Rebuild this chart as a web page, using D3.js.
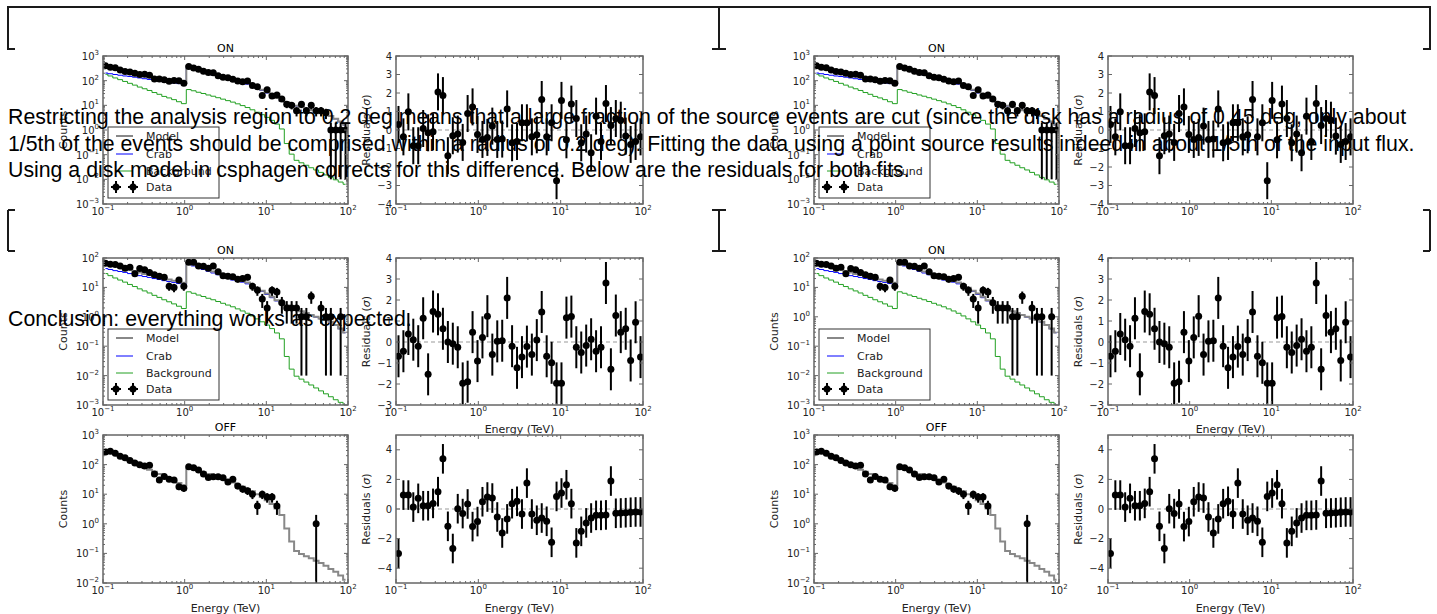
<!DOCTYPE html>
<html>
<head>
<meta charset="utf-8">
<script src="https://cdn.jsdelivr.net/npm/d3@7"></script>
<style>
  body { margin: 0; background: #fff; }
  svg text { font-family: "DejaVu Sans", sans-serif; }
  .para { font-family: "Liberation Sans", Arial, sans-serif; font-size: 21.3px; fill: #000; }
</style>
</head>
<body>
<svg id="page" width="1437" height="614"></svg>
<script>
// energy bin centres (TeV)
const energy = [0.1072,0.1230,0.1413,0.1622,0.1862,0.2138,0.2455,0.2818,0.3236,0.3715,
  0.4266,0.4898,0.5623,0.6457,0.7413,0.8511,0.9772,1.122,1.288,1.479,
  1.698,1.950,2.239,2.570,2.951,3.388,3.890,4.467,5.129,5.888,
  6.761,7.762,8.913,10.23,11.75,13.49,15.49,17.78,20.42,23.44,
  26.92,30.90,35.48,40.74,46.77,53.70,61.66,70.79,81.28,93.33];

// first figure: ON spectrum (disk / point fit)
const countsA = [404,348,333,268,238,225,198,177,184,167,116,117,108,95,102,99,78,
  371,325,293,243,212,207,157,138,130,114,96,91,96,63,57,25,43,24,26,18,11,10,6,11,6,10,6,6,5,1,1,1,1];
const modelA = [398,355,316,282,251,224,200,178,158,145,132,120,110,102,93.5,86.9,79.8,
  381,332,289,251,219,191,166,145,126,110,100,93.5,81.4,66.0,53.7,42.7,33.9,26.3,20.0,
  15.5,13.2,11.2,9.57,8.53,7.43,6.33,5.50,4.79,4.27,3.72,2.89,2.19,1.62];
const crabA = [204,191,178,166,155,148,138,129,120,112,105,98,91,87,81,76,71,
  339,295,257,224,195,170,148,129,112,97.9,89.1,83.1,72.6,60.5,49.0,39.8,31.6,24.6,19.1,
  14.8,12.9,11.0,9.35,8.31,7.26,6.16,5.37,4.68,4.17,3.64,2.82,2.14,1.58];
const bkgA = [182,155,129,110,93,78,66,55,47,40,33,28,23,20,17,14,11.7,
  43.7,38.9,33.9,30.2,26.3,23.4,20.4,17.8,15.5,13.5,11.5,9.75,8.14,6.60,5.25,4.17,3.24,2.46,1.74,
  1.10,0.282,0.105,0.0589,0.0468,0.0372,0.0295,0.0240,0.0191,0.0151,0.0120,0.00955,0.00776,0.00631];
const residA = [0.3,-0.37,0.98,-0.85,-0.85,0.08,-0.15,-0.1,2.06,1.86,
  -1.39,-0.31,-0.22,-0.67,0.89,1.25,-0.24,-0.51,-0.4,0.21,
  -0.51,-0.49,1.14,-0.69,-0.62,0.39,0.39,-0.37,-0.26,1.65,
  -0.37,0.39,-2.74,1.6,-0.53,1.4,0.62,-0.69,-0.22,-1.23,
  0.75,-0.62,1.43,0.24,0.62,0.53,-0.33,-0.78,-0.62,-0.37];

// second figure: ON spectrum in 0.2 deg region
const countsB = [66,61,60,53,45,48,29,44,40,32,27,24,22,11,10,18,11,
  71,71,53,52,45,53,34,25,24,23,19,20,22,11,8,4,2,8,7,3,2,2,2,1,1,5,0,2,1,1,0,1,0];
const modelB = [72.4,64.6,57.5,51.3,45.7,40.7,36.3,32.4,28.8,26.3,24.0,21.9,20.0,18.6,17.0,15.8,14.5,
  69.2,60.3,52.5,45.7,39.8,34.7,30.2,26.3,22.9,20.0,18.2,17.0,14.8,12.0,9.77,7.76,6.17,4.79,3.63,
  2.82,2.40,2.04,1.74,1.55,1.35,1.15,1.00,0.871,0.776,0.676,0.525,0.398,0.295];
const crabB = [43.7,40.7,37.2,34.7,32.4,29.5,27.5,25.1,23.4,21.9,20.0,18.6,17.0,15.8,14.8,13.5,12.6,
  61.7,53.7,46.8,40.7,35.5,30.9,26.9,23.4,20.4,17.8,16.2,15.1,13.2,11.0,8.91,7.24,5.75,4.47,3.47,
  2.69,2.34,2.00,1.70,1.51,1.32,1.12,0.977,0.851,0.759,0.661,0.513,0.389,0.288];
const bkgB = [29.5,25.1,20.9,17.8,15.1,12.6,10.7,8.91,7.59,6.46,5.37,4.57,3.80,3.24,2.75,2.29,1.91,
  7.08,6.31,5.50,4.90,4.27,3.80,3.31,2.88,2.51,2.19,1.86,1.58,1.32,1.07,0.851,0.676,0.525,0.398,0.282,
  0.178,0.0447,0.0166,0.00955,0.00759,0.00603,0.00479,0.00380,0.00302,0.00240,0.00191,0.00151,0.00123,0.00100];
const residB = [-0.68,-0.44,0.38,0.11,-0.2,1.13,-1.54,1.45,1.32,0.63,
  0,-0.08,-0.25,-1.97,-1.89,0.47,-0.91,0.22,1.23,-0.6,
  0.03,0.06,2.1,-0.2,-1.23,-0.72,-0.22,-0.6,0.09,1.43,
  -0.68,-0.99,-1.97,-1.97,1.16,1.21,-0.25,-0.5,-0.17,0.13,
  -0.44,-0.25,2.81,-1.3,1.26,0.47,0.63,-0.88,0.94,-0.72];

// OFF spectrum
const countsC = [266,285,242,192,169,137,114,98,89,95,48,30,40,32,30,18,16,
  84,78,66,48,37,39,39,36,26,32,19,15,13,10,4,10,8,8,4,0,0,0,0,0,0,0,1,0,0,0,0,0,0];
const modelC = [320,270,228,190,160,134,112,94,79,67,57,48,40,34,28.5,24,20,
  80,71,62,55,48,43,37,33,28,25,21,18,15,12.5,10,8,6.2,4.7,3.3,
  2.0,0.7,0.25,0.12,0.095,0.08,0.068,0.057,0.047,0.038,0.03,0.024,0.018,0.013];
const residC = [-3.0,0.94,0.94,0.13,0.72,0.22,0.22,0.38,1.17,3.39,
  -1.17,-2.67,0.02,-0.31,0.34,-1.19,-0.85,0.49,0.81,0.74,
  -0.54,-1.62,-0.67,0.36,0.52,-0.34,1.75,-0.34,-0.76,-0.61,
  -0.83,-2.25,0.85,1.08,1.64,0.36,-2.29,-1.51,-0.94,-0.61,
  -0.43,-0.43,-0.4,1.89,-0.29,-0.27,-0.25,-0.22,-0.2,-0.2];

const legendNames = ["Model", "Crab", "Background", "Data"];
const paragraph = [
  "Restricting the analysis region to 0.2 deg means that a large fraction of the source events are cut (since the disk has a radius of 0.45 deg, only about",
  "1/5th of the events should be comprised within a radius of 0.2 deg). Fitting the data using a point source results indeed in about 1/5th of the input flux.",
  "Using a disk model in csphagen corrects for this difference. Below are the residuals for both fits."
];
const conclusion = "Conclusion: everything works as expected.";

const spine = "#666", ink = "#222";
const cModel = "#888", cCrab = "#0000ff", cBkg = "#22a022";
const errFloor = 1e-2; // lower end of Poisson error bars that reach zero

const svg = d3.select("#page");
const defs = svg.append("defs");
let clipN = 0;

// column x-ranges and row y-ranges of the axes
const cols = [
  { on: [103, 348], res: [396, 643] },
  { on: [814, 1059], res: [1108, 1353] }
];
const rows = { A: [56, 204], B: [258, 405], C: [435, 583] };

function isDecade(t) { const l = Math.log10(t); return Math.abs(l - Math.round(l)) < 1e-6; }

function supLabel(sel, exp) {
  sel.append("tspan").text("10");
  sel.append("tspan").attr("dy", -5).attr("font-size", 7).text(exp < 0 ? "\u2212" + (-exp) : exp);
}

function makeAxes(xr, yr, yScaleType, yDomain, opts) {
  const x = d3.scaleLog().domain([0.1, 100]).range(xr);
  const y = (yScaleType === "log" ? d3.scaleLog() : d3.scaleLinear()).domain(yDomain).range([yr[1], yr[0]]);
  const id = "clip" + (clipN++);
  defs.append("clipPath").attr("id", id).append("rect")
    .attr("x", xr[0]).attr("y", yr[0]).attr("width", xr[1] - xr[0]).attr("height", yr[1] - yr[0]);
  const g = svg.append("g");
  const inner = g.append("g").attr("clip-path", `url(#${id})`);
  const axisG = g.append("g");

  // x ticks (log) on bottom and top
  x.ticks().forEach(t => {
    const major = isDecade(t), len = major ? 4 : 2, px = x(t);
    axisG.append("line").attr("x1", px).attr("x2", px).attr("y1", yr[1]).attr("y2", yr[1] - len)
      .attr("stroke", spine).attr("stroke-width", 1);
    axisG.append("line").attr("x1", px).attr("x2", px).attr("y1", yr[0]).attr("y2", yr[0] + len)
      .attr("stroke", spine).attr("stroke-width", 1);
    if (major) {
      axisG.append("text").attr("x", px).attr("y", yr[1] + 11).attr("text-anchor", "middle")
        .attr("font-size", 10).attr("fill", ink).call(supLabel, Math.round(Math.log10(t)));
    }
  });

  // y ticks on left and right
  if (yScaleType === "log") {
    y.ticks().forEach(t => {
      const major = isDecade(t), len = major ? 4 : 2, py = y(t);
      axisG.append("line").attr("x1", xr[0]).attr("x2", xr[0] + len).attr("y1", py).attr("y2", py)
        .attr("stroke", spine).attr("stroke-width", 1);
      axisG.append("line").attr("x1", xr[1]).attr("x2", xr[1] - len).attr("y1", py).attr("y2", py)
        .attr("stroke", spine).attr("stroke-width", 1);
      if (major) {
        axisG.append("text").attr("x", xr[0] - 4).attr("y", py + 4).attr("text-anchor", "end")
          .attr("font-size", 10).attr("fill", ink).call(supLabel, Math.round(Math.log10(t)));
      }
    });
  } else {
    y.ticks(opts.yTicks).forEach(t => {
      const py = y(t);
      axisG.append("line").attr("x1", xr[0]).attr("x2", xr[0] + 4).attr("y1", py).attr("y2", py)
        .attr("stroke", spine).attr("stroke-width", 1);
      axisG.append("line").attr("x1", xr[1]).attr("x2", xr[1] - 4).attr("y1", py).attr("y2", py)
        .attr("stroke", spine).attr("stroke-width", 1);
      axisG.append("text").attr("x", xr[0] - 4).attr("y", py + 3.5).attr("text-anchor", "end")
        .attr("font-size", 10).attr("fill", ink).text(t < 0 ? "\u2212" + (-t) : t);
    });
  }

  axisG.append("rect").attr("x", xr[0]).attr("y", yr[0]).attr("width", xr[1] - xr[0]).attr("height", yr[1] - yr[0])
    .attr("fill", "none").attr("stroke", spine).attr("stroke-width", 1.5);

  if (opts.title) {
    g.append("text").attr("x", (xr[0] + xr[1]) / 2).attr("y", yr[0] - 4).attr("text-anchor", "middle")
      .attr("font-size", 11).attr("fill", "#000").text(opts.title);
  }
  if (opts.ylabel) {
    const cy = (yr[0] + yr[1]) / 2, cx = opts.ylabelX;
    const t = g.append("text").attr("transform", `translate(${cx},${cy}) rotate(-90)`)
      .attr("text-anchor", "middle").attr("font-size", 11).attr("fill", ink);
    if (opts.ylabel === "res") {
      t.append("tspan").text("Residuals (");
      t.append("tspan").attr("font-style", "italic").text("\u03c3");
      t.append("tspan").text(")");
    } else t.text(opts.ylabel);
  }
  if (opts.xlabel) {
    g.append("text").attr("x", (xr[0] + xr[1]) / 2).attr("y", opts.xlabelY).attr("text-anchor", "middle")
      .attr("font-size", 11).attr("fill", ink).text(opts.xlabel);
  }
  return { x, y, inner, g };
}

function stepLine(ax, vals, color, width) {
  const line = d3.line()
    .defined(d => d[1] > 0)
    .x(d => ax.x(d[0])).y(d => ax.y(d[1]))
    .curve(d3.curveStep);
  ax.inner.append("path").datum(energy.map((e, i) => [e, vals[i]]))
    .attr("d", line).attr("fill", "none").attr("stroke", color).attr("stroke-width", width);
}

function countPoints(ax, counts) {
  const pts = energy.map((e, i) => ({ e, n: counts[i] })).filter(d => d.n > 0);
  ax.inner.selectAll(null).data(pts).enter().append("line")
    .attr("x1", d => ax.x(d.e)).attr("x2", d => ax.x(d.e))
    .attr("y1", d => ax.y(d.n + Math.sqrt(d.n)))
    .attr("y2", d => ax.y(Math.max(d.n - Math.sqrt(d.n), errFloor)))
    .attr("stroke", "#000").attr("stroke-width", 2);
  ax.inner.selectAll(null).data(pts).enter().append("circle")
    .attr("cx", d => ax.x(d.e)).attr("cy", d => ax.y(d.n)).attr("r", 3.5).attr("fill", "#000");
}

function residPoints(ax, resid) {
  const pts = energy.map((e, i) => ({ e, r: resid[i] }));
  ax.inner.append("line").attr("x1", ax.x.range()[0]).attr("x2", ax.x.range()[1])
    .attr("y1", ax.y(0)).attr("y2", ax.y(0))
    .attr("stroke", "#999").attr("stroke-width", 1).attr("stroke-dasharray", "4,3");
  ax.inner.selectAll(null).data(pts).enter().append("line")
    .attr("x1", d => ax.x(d.e)).attr("x2", d => ax.x(d.e))
    .attr("y1", d => ax.y(d.r + 1)).attr("y2", d => ax.y(d.r - 1))
    .attr("stroke", "#000").attr("stroke-width", 2);
  ax.inner.selectAll(null).data(pts).enter().append("circle")
    .attr("cx", d => ax.x(d.e)).attr("cy", d => ax.y(d.r)).attr("r", 3.5).attr("fill", "#000");
}

function legend(ax) {
  const x0 = ax.x.range()[0], y0 = ax.y.range()[1];
  const g = ax.g.append("g");
  g.append("rect").attr("x", x0 + 5).attr("y", y0 + 71).attr("width", 111).attr("height", 71)
    .attr("fill", "#fff").attr("stroke", "#333").attr("stroke-width", 1);
  const rowsY = [80, 98, 115, 131];
  const colors = [cModel, cCrab, cBkg];
  const widths = [2, 1, 1];
  legendNames.forEach((name, i) => {
    const yy = y0 + rowsY[i];
    if (i < 3) {
      g.append("line").attr("x1", x0 + 13).attr("x2", x0 + 30).attr("y1", yy).attr("y2", yy)
        .attr("stroke", colors[i]).attr("stroke-width", widths[i]);
    } else {
      [x0 + 13, x0 + 30].forEach(mx => {
        g.append("line").attr("x1", mx).attr("x2", mx).attr("y1", yy - 6).attr("y2", yy + 6)
          .attr("stroke", "#000").attr("stroke-width", 2);
        g.append("line").attr("x1", mx - 5).attr("x2", mx + 5).attr("y1", yy).attr("y2", yy)
          .attr("stroke", "#000").attr("stroke-width", 2);
        g.append("circle").attr("cx", mx).attr("cy", yy).attr("r", 3.5).attr("fill", "#000");
      });
    }
    g.append("text").attr("x", x0 + 43).attr("y", yy + 4).attr("font-size", 11).attr("fill", ink).text(name);
  });
}

cols.forEach(c => {
  // first figure
  const onA = makeAxes(c.on, rows.A, "log", [1e-3, 1e3], { title: "ON", ylabel: "Counts", ylabelX: c.on[0] - 36 });
  stepLine(onA, bkgA, cBkg, 1);
  stepLine(onA, crabA, cCrab, 1);
  stepLine(onA, modelA, cModel, 2);
  countPoints(onA, countsA);
  legend(onA);
  const resA = makeAxes(c.res, rows.A, "lin", [-4, 4], { yTicks: 8, ylabel: "res", ylabelX: c.res[0] - 26 });
  residPoints(resA, residA);

  // second figure, ON
  const onB = makeAxes(c.on, rows.B, "log", [1e-3, 1e2], { title: "ON", ylabel: "Counts", ylabelX: c.on[0] - 36 });
  stepLine(onB, bkgB, cBkg, 1);
  stepLine(onB, crabB, cCrab, 1);
  stepLine(onB, modelB, cModel, 2);
  countPoints(onB, countsB);
  legend(onB);
  const resB = makeAxes(c.res, rows.B, "lin", [-3, 4], { yTicks: 7, ylabel: "res", ylabelX: c.res[0] - 26,
    xlabel: "Energy (TeV)", xlabelY: 433 });
  residPoints(resB, residB);

  // second figure, OFF
  const offC = makeAxes(c.on, rows.C, "log", [1e-2, 1e3], { title: "OFF", ylabel: "Counts", ylabelX: c.on[0] - 36,
    xlabel: "Energy (TeV)", xlabelY: 612 });
  stepLine(offC, modelC, cModel, 2);
  countPoints(offC, countsC);
  const resC = makeAxes(c.res, rows.C, "lin", [-5, 5], { yTicks: 5, ylabel: "res", ylabelX: c.res[0] - 26,
    xlabel: "Energy (TeV)", xlabelY: 612 });
  residPoints(resC, residC);
});

// bracket marks of the notebook cells
const br = svg.append("g").attr("fill", "none").attr("stroke", "#1a1a1a").attr("stroke-width", 2);
br.append("path").attr("d",
  "M15,49H8V7H1430V49H1423 M712,49H719V7 M726,49H719");
[8, 719, 1430].forEach((bx, i) => {
  const dirs = i === 0 ? [1] : i === 1 ? [-1, 1] : [-1];
  br.append("line").attr("x1", bx).attr("x2", bx).attr("y1", 210).attr("y2", 251);
  dirs.forEach(d => {
    br.append("line").attr("x1", bx).attr("x2", bx + 7 * d).attr("y1", 210).attr("y2", 210);
    br.append("line").attr("x1", bx).attr("x2", bx + 7 * d).attr("y1", 251).attr("y2", 251);
  });
});

// overlaid paragraph text
const para = svg.append("g");
paragraph.forEach((s, i) => {
  para.append("text").attr("class", "para").attr("x", 8).attr("y", 124 + i * 26.5).text(s);
});
para.append("text").attr("class", "para").attr("x", 8).attr("y", 326).text(conclusion);
</script>
</body>
</html>
